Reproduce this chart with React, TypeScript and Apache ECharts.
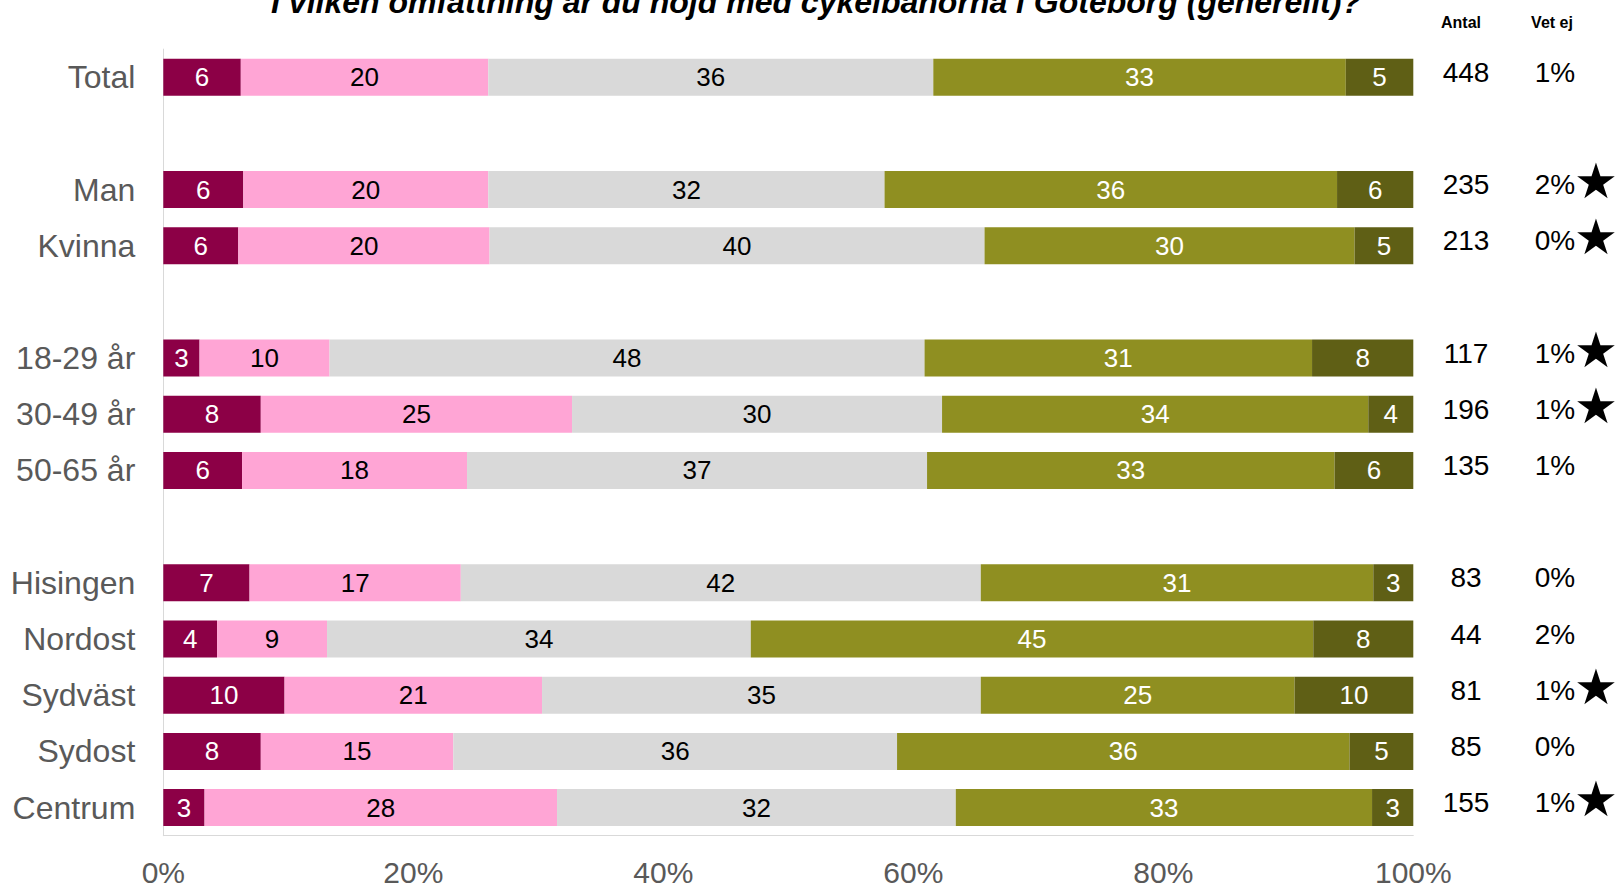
import React, { useEffect, useRef } from "react";
import * as echarts from "echarts";

const TITLE = "I vilken omfattning är du nöjd med cykelbanorna i Göteborg (generellt)?";
const categories = ["Total", " ", "Man", "Kvinna", "  ", "18-29 år", "30-49 år", "50-65 år", "   ", "Hisingen", "Nordost", "Sydväst", "Sydost", "Centrum"];
const seriesNames = ["Mycket missnöjd", "Ganska missnöjd", "Varken eller", "Ganska nöjd", "Mycket nöjd"];
const seriesColors = ["#8C0046", "#FFA5D5", "#D9D9D9", "#8F8F21", "#5F5F15"];
const labelColors = ["#FFFFFF", "#000000", "#000000", "#FFFFFF", "#FFFFFF"];

// percentages per category row (null = spacer row)
const s1 = [6.2, null, 6.4, 6.0, null, 2.9, 7.8, 6.3, null, 6.9, 4.3, 9.7, 7.8, 3.3];
const s2 = [19.8, null, 19.6, 20.1, null, 10.4, 24.9, 18.0, null, 16.9, 8.8, 20.6, 15.4, 28.2];
const s3 = [35.6, null, 31.7, 39.6, null, 47.6, 29.6, 36.8, null, 41.6, 33.9, 35.1, 35.5, 31.9];
const s4 = [33.0, null, 36.2, 29.6, null, 31.0, 34.1, 32.6, null, 31.4, 45.0, 25.1, 36.2, 33.3];
const s5 = [5.4, null, 6.1, 4.7, null, 8.1, 3.6, 6.3, null, 3.2, 8.0, 9.5, 5.1, 3.3];
const antal = ["448", "", "235", "213", "", "117", "196", "135", "", "83", "44", "81", "85", "155"];
const vetEj = ["1%", "", "2%", "0%", "", "1%", "1%", "1%", "", "0%", "2%", "1%", "0%", "1%"];
const star = [false, false, true, true, false, true, true, false, false, false, false, true, false, true];
const xTicks = [0, 20, 40, 60, 80, 100];

const FONT = "'Liberation Sans', Arial, Helvetica, sans-serif";
const GRID_RIGHT_X = 1413.3;

function sideAxis(labels: string[], centerX: number, fontSize: number, family: string, pad: number) {
  return {
    type: "category",
    data: categories,
    inverse: true,
    position: "right",
    axisLine: { show: false },
    axisTick: { show: false },
    axisLabel: {
      interval: 0,
      margin: centerX - GRID_RIGHT_X,
      align: "center",
      formatter: (_v: string, i: number) => (labels[i] ? `{t|${labels[i]}}` : ""),
      rich: {
        t: { fontSize, fontFamily: family, color: "#000000", padding: [0, 0, pad, 0], align: "center" },
      },
    },
  };
}

export default function App() {
  const ref = useRef<HTMLDivElement>(null);
  useEffect(() => {
    if (!ref.current) return;
    const chart = echarts.init(ref.current, null, { renderer: "svg" });
    const allSeries = [s1, s2, s3, s4, s5];
    const starLabels = star.map((s) => (s ? "★" : ""));
    chart.setOption({
      animation: false,
      backgroundColor: "#FFFFFF",
      grid: {
        left: 163.3,
        right: 1619 - GRID_RIGHT_X,
        top: 49.1,
        bottom: 889 - 835.7,
        containLabel: false,
        outerBoundsMode: "none",
      },
      xAxis: {
        type: "value",
        min: xTicks[0],
        max: xTicks[xTicks.length - 1],
        interval: 20,
        axisLine: { show: true, lineStyle: { color: "#D9D9D9", width: 1 } },
        axisTick: { show: false },
        splitLine: { show: false },
        axisLabel: { formatter: "{value}%", fontSize: 30, lineHeight: 30, color: "#595959", fontFamily: FONT, margin: 22 },
      },
      yAxis: [
        {
          type: "category",
          data: categories,
          inverse: true,
          axisLine: { show: true, lineStyle: { color: "#D9D9D9", width: 1 } },
          axisTick: { show: false },
          axisLabel: { interval: 0, fontSize: 32, color: "#595959", fontFamily: FONT, margin: 28 },
        },
        sideAxis(antal, 1466, 28, FONT, 10),
        sideAxis(vetEj, 1555, 28, FONT, 10),
        sideAxis(starLabels, 1596, 49, "'DejaVu Sans', sans-serif", 16),
      ],
      series: allSeries.map((d, k) => ({
        name: seriesNames[k],
        type: "bar",
        stack: "total",
        yAxisIndex: 0,
        barWidth: 37,
        data: d,
        itemStyle: { color: seriesColors[k] },
        label: {
          show: true,
          position: "inside",
          color: labelColors[k],
          fontSize: 26,
          fontFamily: FONT,
          formatter: (p: any) => (p.value == null ? "" : String(Math.round(p.value))),
        },
      })),
      graphic: [
        {
          type: "text",
          x: 816,
          y: 2,
          style: { text: TITLE, fontSize: 32, fontWeight: "bold", fontStyle: "italic", fontFamily: FONT, fill: "#000", align: "center", verticalAlign: "middle" },
        },
        {
          type: "text",
          x: 1461,
          y: 22.7,
          style: { text: "Antal", fontSize: 16, fontWeight: "bold", fontFamily: FONT, fill: "#000", align: "center", verticalAlign: "middle" },
        },
        {
          type: "text",
          x: 1552,
          y: 22.7,
          style: { text: "Vet ej", fontSize: 16, fontWeight: "bold", fontFamily: FONT, fill: "#000", align: "center", verticalAlign: "middle" },
        },
      ],
    });
    return () => chart.dispose();
  }, []);
  return <div ref={ref} style={{ position: "fixed", left: 0, top: 0, width: 1619, height: 889 }} />;
}
